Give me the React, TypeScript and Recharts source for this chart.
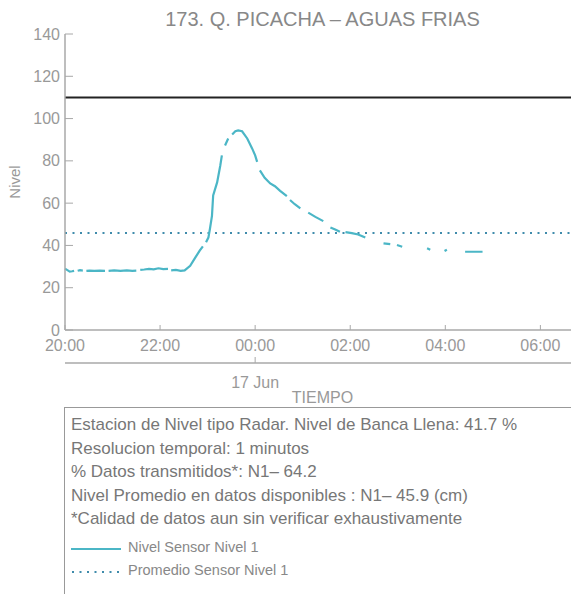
import React from 'react'
import { LineChart, Line, XAxis, YAxis, ReferenceLine, Label } from 'recharts'

// minutes after 20:00 (16 Jun); null = no data transmitted
const minutos = [
  0, 3, 6, 9, 11.5, 14, 16, 19, 22.5, 25, 27, 31, 37, 44, 50.5, 53, 55, 62, 70,
  78, 85, 90, 92, 95, 100, 106, 112, 118, 124, 130, 132, 134, 140, 146, 151,
  158, 164, 170, 174, 176, 178, 181, 183, 185.5, 187, 192, 196, 198, 200, 202, 206,
  208, 211, 215, 218.5, 223.5, 230, 236, 240, 242.5, 244, 246, 252, 259, 265, 271.5,
  280, 282, 284, 290, 297, 302, 307, 316, 326, 330, 335, 341, 347, 350, 354, 362, 370,
  379, 390, 402, 410.5, 415, 419, 425.6, 440, 457, 461, 470, 479, 482, 490, 505, 527,
]
const nivel = [
  29.0, 28.3, 27.6, 27.8, 28.0, null, 28.0, 28.3, 28.1, null, 28.0, 28.1, 28.0, 28.1,
  28.0, null, 28.0, 28.2, 28.0, 28.2, 28.0, 28.1, null, 28.4, 28.6, 28.9, 28.7, 29.2,
  28.8, 28.9, null, 28.2, 28.4, 28.0, 28.2, 30.4, 34.0, 37.5, 39.6, null, 41.5, 43.7,
  48.0, 54.0, 63.6, 69.8, 77.8, 82.6, null, 87.3, 90.6, null, 92.5, 94.0, 94.4, 94.0,
  90.6, 86.0, 82.6, 79.5, null, 75.5, 72.0, 69.3, 68.0, 65.8, 63.3, null, 61.5, 59.5,
  57.5, null, 55.5, 53.5, 51.5, null, 48.5, 47.5, 46.5, null, 46.3, 45.8, 45.2, 43.7,
  null, 41.0, 40.6, null, 40.2, 39.4, null, 38.7, 38.0, null, 37.4, 38.0, null, 37.0,
  37.0,
]

const horaTicks = [0, 120, 240, 360, 480, 600]
const horaLabels = ['20:00', '22:00', '00:00', '02:00', '04:00', '06:00']
const fechaTicks = [240]
const fechaLabels = ['17 Jun']
const nivelTicks = [0, 20, 40, 60, 80, 100, 120, 140]

const promedio = 45.9
const bancaLlena = 110

const titulo = '173. Q. PICACHA – AGUAS FRIAS'
const infoLines = [
  'Estacion de Nivel tipo Radar. Nivel de Banca Llena: 41.7 %',
  'Resolucion temporal: 1 minutos',
  '% Datos transmitidos*: N1– 64.2',
  'Nivel Promedio en datos disponibles : N1– 45.9 (cm)',
  '*Calidad de datos aun sin verificar exhaustivamente',
]
const serieNombre = 'Nivel Sensor Nivel 1'
const promedioNombre = 'Promedio Sensor Nivel 1'

const data = minutos.map((t, i) => ({ t, nivel: nivel[i] }))

const FONT = '"Liberation Sans", Arial, sans-serif'
const TEAL = '#4bb6c6'
const DOTS = '#3f8bab'
const AXIS = '#a8a8a8'
const TXT = '#999'

const HoraTick = (props: any) => {
  const { x, y, payload } = props
  const i = horaTicks.indexOf(payload.value)
  return (
    <g>
      <line x1={x} y1={y - 4} x2={x} y2={y - 9} stroke={AXIS} />
      <text x={x} y={y} dy={17} textAnchor="middle" fill={TXT} fontSize={16}>
        {horaLabels[i]}
      </text>
    </g>
  )
}

const FechaTick = (props: any) => {
  const { x, y, payload } = props
  const i = fechaTicks.indexOf(payload.value)
  return (
    <g>
      <line x1={x} y1={y - 2} x2={x} y2={y - 8} stroke={AXIS} />
      <text x={x} y={y} dy={23} textAnchor="middle" fill={TXT} fontSize={16}>
        {fechaLabels[i]}
      </text>
    </g>
  )
}

const NivelTick = (props: any) => {
  const { x, y, payload } = props
  return (
    <g>
      <line x1={x + 5} y1={y} x2={x + 13} y2={y} stroke={AXIS} />
      <text x={x} y={y} dy={5.5} textAnchor="end" fill={TXT} fontSize={16}>
        {payload.value}
      </text>
    </g>
  )
}

export default function App() {
  return (
    <div
      style={{
        position: 'absolute',
        left: 0,
        top: 0,
        width: 571,
        height: 594,
        overflow: 'hidden',
        background: '#fff',
        fontFamily: FONT,
      }}
    >
      <div
        style={{
          position: 'absolute',
          left: 65,
          top: 8,
          width: 515,
          textAlign: 'center',
          fontSize: 20,
          color: '#888',
          whiteSpace: 'nowrap',
        }}
      >
        {titulo}
      </div>

      <LineChart
        width={600}
        height={408}
        data={data}
        margin={{ top: 34, right: 20, left: 0, bottom: 0 }}
        style={{ fontFamily: FONT }}
      >
        <XAxis
          xAxisId="a"
          dataKey="t"
          type="number"
          domain={[0, 650]}
          ticks={horaTicks}
          height={33}
          stroke={AXIS}
          strokeWidth={1.5}
          tickLine={false}
          tickSize={0}
          tickMargin={4}
          tick={<HoraTick />}
          interval={0}
        />
        <XAxis
          xAxisId="b"
          dataKey="t"
          type="number"
          domain={[0, 650]}
          ticks={fechaTicks}
          height={45}
          stroke={AXIS}
          strokeWidth={1.5}
          tickLine={false}
          tickSize={0}
          tickMargin={2}
          tick={<FechaTick />}
          interval={0}
        >
          <Label value="TIEMPO" position="insideBottom" offset={5} fill={TXT} fontSize={16} />
        </XAxis>
        <YAxis
          domain={[0, 140]}
          ticks={nivelTicks}
          width={65}
          stroke={AXIS}
          strokeWidth={1.5}
          tickLine={false}
          tickSize={0}
          tickMargin={5}
          tick={<NivelTick />}
          interval={0}
        >
          <Label
            value="Nivel"
            angle={-90}
            position="insideLeft"
            offset={15}
            fill={TXT}
            fontSize={15}
            style={{ textAnchor: 'middle' }}
          />
        </YAxis>
        <ReferenceLine xAxisId="a" y={bancaLlena} stroke="#222" strokeWidth={2} />
        <ReferenceLine
          xAxisId="a"
          y={promedio}
          stroke={DOTS}
          strokeWidth={2}
          strokeDasharray="2 5.5"
        />
        <Line
          xAxisId="a"
          type="linear"
          dataKey="nivel"
          stroke={TEAL}
          strokeWidth={2.2}
          dot={false}
          connectNulls={false}
          isAnimationActive={false}
        />
      </LineChart>

      <div
        style={{
          position: 'absolute',
          left: 64,
          top: 407,
          width: 560,
          height: 200,
          border: '1.5px solid #999',
          boxSizing: 'border-box',
          padding: '5px 0 0 6px',
          color: '#777',
        }}
      >
        {infoLines.map((s) => (
          <div key={s} style={{ fontSize: 17, lineHeight: '23.5px', whiteSpace: 'nowrap' }}>
            {s}
          </div>
        ))}
        <div style={{ marginTop: 5, display: 'flex', alignItems: 'center', height: 23 }}>
          <svg width={52} height={10}>
            <line x1={0} y1={7} x2={50} y2={7} stroke={TEAL} strokeWidth={2} />
          </svg>
          <span style={{ fontSize: 14.5, color: '#888', marginLeft: 5 }}>{serieNombre}</span>
        </div>
        <div style={{ display: 'flex', alignItems: 'center', height: 23 }}>
          <svg width={52} height={10}>
            <line x1={1} y1={7} x2={50} y2={7} stroke={DOTS} strokeWidth={2} strokeDasharray="2 5.5" />
          </svg>
          <span style={{ fontSize: 14.5, color: '#888', marginLeft: 5 }}>{promedioNombre}</span>
        </div>
      </div>
    </div>
  )
}
